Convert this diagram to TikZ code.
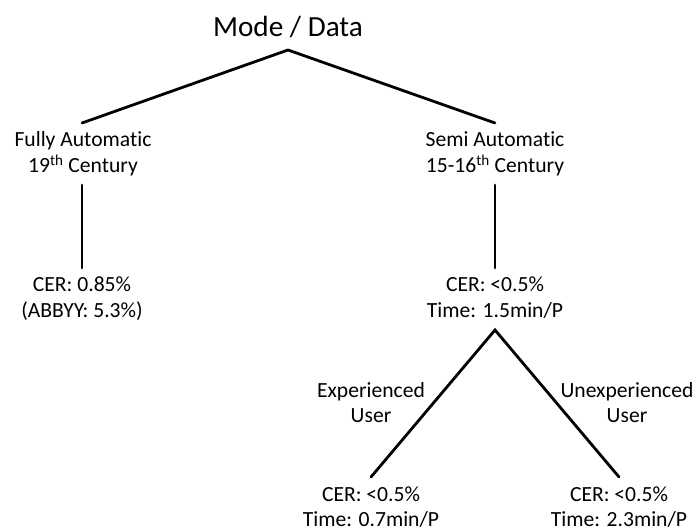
\documentclass[tikz,border=0pt]{standalone}
\usepackage{fontspec}
\setmainfont{Carlito}[Ligatures=NoCommon]
\usetikzlibrary{calc}
\tikzset{
  lbl/.style={anchor=base, inner sep=0pt, font=\fontsize{21.6}{25.5}\selectfont},
  ttl/.style={anchor=base, inner sep=0pt, font=\fontsize{29.2}{34}\selectfont},
  edge/.style={line width=2.8pt, line cap=round}
}
\newcommand{\twoline}[2]{\begin{tabular}[t]{@{}c@{}}#1\\#2\end{tabular}}
\begin{document}
\begin{tikzpicture}[x=1pt,y=-1pt]
\useasboundingbox (0,0) rectangle (696,529);
\node[ttl] (title) at (288,37) {Mode / Data};
\node[lbl] (fa) at (83,147) {\twoline{Fully Automatic}{19\textsuperscript{th} Century}};
\node[lbl] (sa) at (495,147) {\twoline{Semi Automatic}{15-16\textsuperscript{th} Century}};
\node[lbl] (c1) at (82,292) {\twoline{CER: 0.85\%}{(ABBYY: 5.3\%)}};
\node[lbl] (c2) at (495,292) {\twoline{CER: <0.5\%}{Time: 1.5min/P}};
\node[lbl] (l1) at (371,397) {\twoline{Experienced}{User}};
\node[lbl] (l2) at (627,397) {\twoline{Unexperienced}{User}};
\node[lbl] (e1) at (371,501) {\twoline{CER: <0.5\%}{Time: 0.7min/P}};
\node[lbl] (e2) at (619,501) {\twoline{CER: <0.5\%}{Time: 2.3min/P}};
\coordinate (apex) at ($(title.base)+(0,13)$);
\draw[edge] ($(fa.base)+(-1,-24)$) -- (apex) -- ($(sa.base)+(0,-24)$);
\draw[edge] ($(fa.base)+(-1,38)$) -- ($(c1.base)+(0,-24)$);
\draw[edge] ($(sa.base)+(0,38)$) -- ($(c2.base)+(0,-24)$);
\coordinate (apex2) at ($(c2.base)+(0,38)$);
\draw[edge] ($(e1.base)+(0,-24)$) -- (apex2) -- ($(e2.base)+(0,-24)$);
\end{tikzpicture}
\end{document}
